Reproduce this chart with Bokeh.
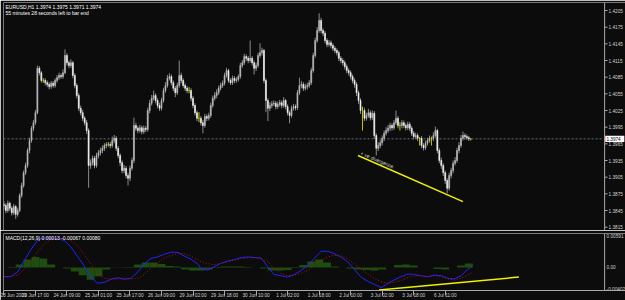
from bokeh.plotting import figure
from bokeh.layouts import column
from bokeh.models import Range1d, LinearAxis, FixedTicker, Span, Label, ColumnDataSource
from bokeh.embed import file_html
from bokeh.resources import INLINE
from bokeh.core.properties import value

# ---------------- data (EURUSD H1, prices x 10^4) ----------------
OPEN_X1E4 = [
    13856, 13854, 13845, 13858, 13849, 13841, 13852, 13838, 13845, 13872,
    13890, 13913, 13926, 13953, 13971, 13993, 14003, 14021, 14101, 14093,
    14079, 14079, 14075, 14072, 14068, 14074, 14070, 14079, 14084, 14088,
    14086, 14093, 14124, 14111, 14106, 14111, 14088, 14070, 14052, 14029,
    14021, 14011, 14003, 13989, 13926, 13931, 13939, 13926, 13944, 13949,
    13953, 13957, 13962, 13964, 13964, 13962, 13971, 13975, 13957, 13944,
    13931, 13917, 13921, 13908, 13903, 13921, 13935, 13998, 13993, 13989,
    13994, 13987, 13993, 13991, 14025, 14038, 14047, 14052, 14043, 14034,
    14029, 14043, 14061, 14070, 14083, 14086, 14075, 14065, 14057, 14070,
    14088, 14079, 14070, 14065, 14061, 14061, 14047, 14034, 14021, 14011,
    14011, 14003, 13998, 14014, 14011, 14016, 14034, 14047, 14052, 14057,
    14065, 14070, 14074, 14088, 14097, 14079, 14075, 14083, 14079, 14081,
    14086, 14106, 14111, 14122, 14119, 14115, 14119, 14111, 14101, 14106,
    14124, 14129, 14133, 14079, 14043, 14029, 14034, 14037, 14038, 14032,
    14036, 14039, 14034, 14043, 14032, 14021, 14016, 14029, 14032, 14030,
    14057, 14070, 14072, 14065, 14068, 14070, 14075, 14097, 14124, 14151,
    14169, 14187, 14169, 14164, 14151, 14144, 14147, 14142, 14137, 14133,
    14129, 14119, 14115, 14111, 14104, 14097, 14093, 14086, 14079, 14072,
    14057, 14043, 14025, 14025, 14011, 14016, 14021, 14012, 14020, 13980,
    13957, 13962, 13967, 13975, 13984, 13989, 13993, 13998, 13994, 14003,
    14011, 13998, 13998, 14003, 13998, 13994, 14000, 13993, 13984, 13978,
    13980, 13975, 13975, 13962, 13958, 13966, 13971, 13975, 13975, 13980,
    13989, 13953, 13935, 13926, 13913, 13899, 13885, 13908, 13917, 13930,
    13935, 13953, 13962, 13975, 13980, 13978, 13976, 13974]
HIGH_X1E4 = [
    13862, 13858, 13863, 13861, 13853, 13857, 13855, 13850, 13876, 13895,
    13917, 13931, 13957, 13976, 13997, 14008, 14026, 14106, 14105, 14096,
    14083, 14083, 14079, 14076, 14078, 14078, 14083, 14089, 14093, 14092,
    14099, 14135, 14128, 14115, 14117, 14114, 14092, 14074, 14056, 14034,
    14026, 14015, 14008, 13993, 13937, 13944, 13943, 13949, 13954, 13958,
    13962, 13966, 13968, 13968, 13968, 13978, 13981, 13979, 13961, 13948,
    13935, 13927, 13925, 13913, 13926, 13940, 14012, 14003, 13997, 13999,
    13998, 13998, 13997, 14030, 14044, 14053, 14061, 14056, 14047, 14039,
    14048, 14066, 14076, 14089, 14092, 14090, 14079, 14069, 14075, 14115,
    14093, 14083, 14074, 14069, 14067, 14065, 14051, 14038, 14025, 14022,
    14015, 14008, 14019, 14018, 14021, 14039, 14052, 14058, 14063, 14070,
    14075, 14079, 14093, 14102, 14100, 14083, 14088, 14087, 14085, 14090,
    14111, 14116, 14127, 14126, 14123, 14151, 14123, 14115, 14111, 14129,
    14146, 14138, 14136, 14083, 14047, 14040, 14042, 14043, 14042, 14041,
    14044, 14043, 14049, 14046, 14036, 14025, 14034, 14037, 14036, 14062,
    14084, 14078, 14076, 14073, 14075, 14080, 14102, 14129, 14156, 14175,
    14200, 14192, 14173, 14168, 14155, 14152, 14151, 14146, 14141, 14137,
    14133, 14123, 14119, 14115, 14108, 14101, 14097, 14090, 14083, 14076,
    14061, 14047, 14032, 14030, 14021, 14028, 14025, 14025, 14024, 13984,
    13968, 13972, 13980, 13989, 13995, 13999, 14003, 14002, 14008, 14025,
    14015, 14004, 14008, 14007, 14002, 14005, 14004, 13997, 13988, 13985,
    13984, 13977, 13979, 13966, 13971, 13976, 13980, 13978, 13986, 13996,
    13992, 13957, 13940, 13930, 13917, 13903, 13913, 13922, 13935, 13941,
    13958, 13968, 13981, 13987, 13984, 13982, 13979, 13975]
LOW_X1E4 = [
    13847, 13840, 13841, 13844, 13836, 13837, 13830, 13834, 13842, 13868,
    13886, 13909, 13922, 13948, 13967, 13988, 13999, 14018, 14088, 14075,
    14075, 14070, 14067, 14063, 14064, 14066, 14066, 14075, 14080, 14082,
    14082, 14090, 14106, 14101, 14102, 14083, 14065, 14047, 14024, 14016,
    14006, 13998, 13983, 13886, 13920, 13926, 13921, 13922, 13939, 13944,
    13948, 13952, 13957, 13960, 13957, 13958, 13966, 13952, 13939, 13925,
    13912, 13912, 13903, 13890, 13898, 13917, 13930, 13988, 13984, 13985,
    13982, 13983, 13986, 13987, 14020, 14034, 14043, 14038, 14029, 14024,
    14025, 14039, 14057, 14066, 14079, 14070, 14060, 14049, 14053, 14066,
    14074, 14066, 14060, 14056, 14056, 14042, 14029, 14016, 14006, 14004,
    13998, 13984, 13994, 14006, 14007, 14012, 14030, 14043, 14047, 14053,
    14061, 14066, 14070, 14084, 14075, 14071, 14071, 14074, 14075, 14077,
    14082, 14102, 14107, 14114, 14110, 14111, 14106, 14090, 14096, 14102,
    14120, 14124, 14074, 14022, 14006, 14024, 14029, 14033, 14027, 14028,
    14032, 14029, 14030, 14027, 14016, 14002, 14012, 14025, 14025, 14026,
    14053, 14065, 14060, 14061, 14063, 14066, 14071, 14093, 14120, 14147,
    14165, 14164, 14159, 14146, 14139, 14140, 14137, 14132, 14128, 14124,
    14114, 14110, 14106, 14099, 14092, 14088, 14081, 14074, 14066, 14051,
    14037, 14019, 13989, 14006, 14007, 14012, 14007, 14008, 13974, 13944,
    13952, 13957, 13962, 13970, 13980, 13985, 13988, 13989, 13990, 13999,
    13993, 13989, 13993, 13993, 13989, 13990, 13988, 13979, 13973, 13974,
    13970, 13962, 13957, 13953, 13954, 13962, 13967, 13962, 13970, 13976,
    13948, 13930, 13920, 13907, 13893, 13876, 13881, 13903, 13912, 13926,
    13931, 13948, 13958, 13971, 13973, 13972, 13970, 13971]
CLOSE_X1E4 = [
    13854, 13845, 13858, 13849, 13841, 13852, 13838, 13845, 13872, 13890,
    13913, 13926, 13953, 13971, 13993, 14003, 14021, 14101, 14093, 14079,
    14079, 14075, 14072, 14068, 14074, 14070, 14079, 14084, 14088, 14086,
    14093, 14124, 14111, 14106, 14111, 14088, 14070, 14052, 14029, 14021,
    14011, 14003, 13989, 13926, 13931, 13939, 13926, 13944, 13949, 13953,
    13957, 13962, 13964, 13964, 13962, 13971, 13975, 13957, 13944, 13931,
    13917, 13921, 13908, 13903, 13921, 13935, 13998, 13993, 13989, 13994,
    13987, 13993, 13991, 14025, 14038, 14047, 14052, 14043, 14034, 14029,
    14043, 14061, 14070, 14083, 14086, 14075, 14065, 14057, 14070, 14088,
    14079, 14070, 14065, 14061, 14061, 14047, 14034, 14021, 14011, 14011,
    14003, 13998, 14014, 14011, 14016, 14034, 14047, 14052, 14057, 14065,
    14070, 14074, 14088, 14097, 14079, 14075, 14083, 14079, 14081, 14086,
    14106, 14111, 14122, 14119, 14115, 14119, 14111, 14101, 14106, 14124,
    14129, 14133, 14079, 14043, 14029, 14034, 14037, 14038, 14032, 14036,
    14039, 14034, 14043, 14032, 14021, 14016, 14029, 14032, 14030, 14057,
    14070, 14072, 14065, 14068, 14070, 14075, 14097, 14124, 14151, 14169,
    14187, 14169, 14164, 14151, 14144, 14147, 14142, 14137, 14133, 14129,
    14119, 14115, 14111, 14104, 14097, 14093, 14086, 14079, 14072, 14057,
    14043, 14025, 14025, 14011, 14016, 14021, 14012, 14020, 13980, 13957,
    13962, 13967, 13975, 13984, 13989, 13993, 13998, 13994, 14003, 14011,
    13998, 13998, 14003, 13998, 13994, 14000, 13993, 13984, 13978, 13980,
    13975, 13975, 13962, 13958, 13966, 13971, 13975, 13975, 13980, 13989,
    13953, 13935, 13926, 13913, 13899, 13885, 13908, 13917, 13930, 13935,
    13953, 13962, 13975, 13980, 13978, 13976, 13974, 13974]

PRICE_TICKS = [1.3815, 1.3845, 1.3875, 1.3905, 1.3935, 1.3965, 1.3995,
               1.4025, 1.4055, 1.4085, 1.4115, 1.4145, 1.4175, 1.4205]

TIME_TICKS = [0, 16, 32, 48, 64, 80, 96, 112, 128, 144, 160, 176, 192, 208, 224]
TIME_LABELS = ["23 Jun 2009", "23 Jun 17:00", "24 Jun 09:00", "25 Jun 01:00",
               "25 Jun 17:00", "26 Jun 09:00", "29 Jun 02:00", "29 Jun 18:00",
               "30 Jun 10:00", "1 Jul 02:00", "1 Jul 18:00", "2 Jul 10:00",
               "3 Jul 02:00", "3 Jul 18:00", "6 Jul 11:00"]

MACD_BARS = [0, 3.5, 7, 10, 13.5, 17, 20.5, 24, 27.5, 30.5,
             34, 37.5, 40.5, 44, 47.5, 51, 54.5, 58, 61, 64.5,
             68, 71, 74.5, 78, 81, 85, 88.5, 91.5, 95, 98.5,
             100, 103.5, 106.5, 110, 113.5, 117, 120.5, 124, 127, 130.5,
             134, 137, 140.5, 144, 147, 151, 154.5, 157.5, 161, 164.5,
             167.5, 171, 174.5, 177.5, 181, 185, 188, 191.5, 195, 198,
             201.5, 205, 208, 211.5, 215, 218.5, 222, 225.5, 228.5, 232,
             235.5, 237.5]
MACD_MAIN = [-0.00162, -0.00162, -0.00076, 0.00097, 0.00299, 0.00471, 0.00518, 0.00511, 0.00501, 0.00471,
             0.00356, 0.00183, 0.0004, -0.00162, -0.00276, -0.00259, -0.00202, -0.0018, -0.00207, -0.0019,
             -0.00076, 0.00052, 0.00155, 0.00183, 0.00225, 0.00269, 0.00259, 0.002, 0.00143, 0.00057,
             -0.00017, -0.00047, 0.0001, 0.00069, 0.00109, 0.00138, 0.00173, 0.00183, 0.00173, 0.00166,
             0.0001, -0.00121, -0.00145, -0.00168, -0.00133, -0.00047, 0.0004, 0.00155, 0.00282, 0.00282,
             0.00242, 0.00183, 0.00097, -0.00017, -0.00162, -0.00249, -0.00294, -0.00352, -0.00276, -0.00219,
             -0.00162, -0.00116, -0.00121, -0.00145, -0.00162, -0.00133, -0.00145, -0.0019, -0.00202, -0.00145,
             -0.00029, 0.0001]
MACD_SIGNAL = [-0.00162, -0.00159, -0.00133, -0.00047, 0.00074, 0.00269, 0.00414, 0.00489, 0.00511, 0.00501,
               0.00471, 0.00373, 0.00242, 0.00069, -0.00104, -0.0019, -0.00202, -0.00202, -0.0019, -0.00202,
               -0.0019, -0.00133, -0.00017, 0.00069, 0.00155, 0.00212, 0.00242, 0.00242, 0.00195, 0.00135,
               0.001, 0.00066, 0.00048, 0.00069, 0.001, 0.00126, 0.00152, 0.00166, 0.00169, 0.00155,
               0.00097, -0.00017, -0.00104, -0.00145, -0.00133, -0.00104, -0.00047, 0.0004, 0.00126, 0.00183,
               0.00212, 0.002, 0.00155, 0.00069, -0.00017, -0.00121, -0.0019, -0.00249, -0.00276, -0.00259,
               -0.00228, -0.00176, -0.0015, -0.00145, -0.00162, -0.00145, -0.00162, -0.00202, -0.00219, -0.0019,
               -0.00133, -0.00093]
HIST_BARS = [0, 4, 8, 12, 16, 20, 24, 28, 32, 36, 40, 44, 48, 52, 56, 60, 64, 68, 72, 76,
             80, 84, 88, 92, 96, 100, 104, 108, 112, 116, 120, 124, 128, 132, 136, 140, 144, 148, 152, 156,
             160, 164, 168, 172, 176, 180, 184, 188, 192, 196, 200, 204, 208, 212, 216, 220, 224, 228, 232, 236]
HIST = [0.0, 0.00009, 0.00052, 0.00138, 0.00181, 0.00155, 0.00052, 0.0, -0.00017, -0.00069,
        -0.00138, -0.00216, -0.00155, -0.00035, 0.00005, -0.00005, 0.00009, 0.00052, 0.00086, 0.00086,
        0.0006, 0.00026, 0.00017, -0.00035, -0.00052, -0.00052, -0.00035, -0.00009, 0.00017, 0.00017,
        0.00017, 0.00009, 0.0, -0.00017, -0.00052, -0.00052, -0.00043, 0.00009, 0.00043, 0.00104,
        0.00138, 0.00086, 0.00017, 0.0, -0.00017, -0.00035, -0.00043, -0.00052, -0.00035, 0.0,
        0.00043, 0.00052, 0.00035, 0.0, 0.0, -0.00026, -0.00035, 0.0, 0.00035, 0.00069]
MACD_LEVELS = [0.00591, 0.0, -0.00402]
MACD_LEVEL_LABELS = ["0.00591", "0.00", "-0.00402"]

# hand-drawn trend lines (divergence)
DIV_PRICE_BARS = [179.7, 233.0]
DIV_PRICE = [1.3944, 1.3861]
DIV_MACD_BARS = [190.4, 261.4]
DIV_MACD = [-0.00392, -0.00168]

# ---------------- styling / geometry ----------------
BG = "#0c0c0c"
FRAME = "#a9a9a9"
TXT = "#d0d0d0"
FONT = "Liberation Sans"
FS = "5px"
AFS = "4.7px"
X_LO, X_AX, X_END = -0.2, 304.9, 315.5      # bar units: left edge, price-scale line, right edge
P_LO, P_HI = 1.3809, 1.42194
M_LO, M_HI = -0.00402, 0.00591

opens = [v / 10000 for v in OPEN_X1E4]
highs = [v / 10000 for v in HIGH_X1E4]
lows = [v / 10000 for v in LOW_X1E4]
closes = [v / 10000 for v in CLOSE_X1E4]
bars = list(range(len(closes)))

wick_col, body_col = [], []
for o, c in zip(opens, closes):
    if c > o:      # bull candle
        wick_col.append("#8c8c8c"); body_col.append("#b8b8b8")
    elif c < o:    # bear candle
        wick_col.append("#8c8c8c"); body_col.append("#f2f2f2")
    else:          # doji: drawn in line-chart colour
        wick_col.append("#c8c800"); body_col.append("#d8d800")

src = ColumnDataSource(dict(x=bars, o=opens, h=highs, l=lows, c=closes,
                            top=[max(o, c) for o, c in zip(opens, closes)],
                            bot=[min(o, c) for o, c in zip(opens, closes)],
                            wick=wick_col, body=body_col))

x_range = Range1d(X_LO, X_END)

common = dict(x_range=x_range, output_backend="svg", toolbar_location=None, title=None,
              min_border_left=3, min_border_right=0, frame_width=622,
              background_fill_color=BG, border_fill_color=BG, outline_line_color=None,
              x_axis_location=None, y_axis_location=None)


def frame_lines(p):
    p.add_layout(Span(location=X_LO, dimension="height", line_color=FRAME, line_width=1))
    p.add_layout(Span(location=X_AX, dimension="height", line_color=FRAME, line_width=1))
    p.add_layout(Span(location=p.y_range.end, dimension="width", line_color=FRAME, line_width=1))


# ---------------- main price panel ----------------
p1 = figure(frame_height=228, y_range=Range1d(P_LO, P_HI),
            min_border_top=2, min_border_bottom=0, **common)
p1.grid.visible = False
frame_lines(p1)
p1.add_layout(Span(location=P_LO, dimension="width", line_color=FRAME, line_width=1))

# bid line across the chart area
p1.segment(x0=[X_LO], x1=[X_AX], y0=[closes[-1]], y1=[closes[-1]],
           line_color="#5f7580", line_dash="2 2", line_width=1)

# price scale (drawn on the chart's own scale, right of the scale line)
p1.segment(x0=[X_AX] * len(PRICE_TICKS), x1=[X_AX + 1.5] * len(PRICE_TICKS),
           y0=PRICE_TICKS, y1=PRICE_TICKS, line_color=FRAME, line_width=1)
p1.text(x=[X_AX + 2.0] * len(PRICE_TICKS), y=PRICE_TICKS,
        text=["%.4f" % t for t in PRICE_TICKS], text_font=value(FONT), text_font_size=AFS,
        text_color=TXT, text_align="left", text_baseline="middle")

p1.segment(x0="x", y0="l", x1="x", y1="h", source=src, line_color="wick", line_width=1)
p1.vbar(x="x", width=0.5, top="top", bottom="bot", source=src,
        fill_color="body", line_color="body", line_width=0.6)

# current bid tag on the price scale
p1.quad(left=[X_AX + 0.3], right=[X_AX + 10.0], bottom=[closes[-1] - 0.00055], top=[closes[-1] + 0.00055],
        fill_color="#ffffff", line_color=None)
p1.text(x=[X_AX + 0.9], y=[closes[-1]], text=["%.4f" % closes[-1]], text_font=value(FONT),
        text_font_size=AFS, text_color="#000000", text_align="left", text_baseline="middle")

p1.line(DIV_PRICE_BARS, DIV_PRICE, line_color="#f0f000", line_width=1.5)
p1.text(x=[181.2], y=[1.3949], text=["+ ve divergence"], angle=-0.41,
        text_font=value(FONT), text_font_size=FS, text_color="#cfcfcf",
        text_align="left", text_baseline="middle")

p1.add_layout(Label(x=2, y=227, x_units="screen", y_units="screen",
                    text="EURUSD,H1  1.3974 1.3975 1.3971 1.3974",
                    text_font=FONT, text_font_size=FS, text_color="#ffffff", text_baseline="top"))
p1.add_layout(Label(x=2, y=221, x_units="screen", y_units="screen",
                    text="55 minutes 28 seconds left to bar end",
                    text_font=FONT, text_font_size=FS, text_color="#ffffff", text_baseline="top"))

# ---------------- MACD panel ----------------
p2 = figure(frame_height=57, y_range=Range1d(M_LO, M_HI),
            min_border_top=3, min_border_bottom=10, **common)
p2.grid.visible = False
frame_lines(p2)

axx = LinearAxis(ticker=FixedTicker(ticks=TIME_TICKS),
                 major_label_overrides=dict(zip(TIME_TICKS, TIME_LABELS)),
                 axis_line_color=FRAME, major_tick_line_color=FRAME, major_tick_out=5, major_tick_in=0,
                 minor_tick_line_color=None, major_label_text_color=TXT,
                 major_label_text_font=FONT, major_label_text_font_size=AFS,
                 major_label_text_align="left", major_label_standoff=-3)
p2.add_layout(axx, "below")

p2.vbar(x=HIST_BARS, width=4, top=HIST, bottom=0, fill_color="#225a10", fill_alpha=0.85, line_alpha=0)
p2.line(MACD_BARS, MACD_MAIN, line_color="#2424ff", line_width=1)
p2.line(MACD_BARS, MACD_SIGNAL, line_color="#c01010", line_width=1, line_dash="1 2")
p2.line(DIV_MACD_BARS, DIV_MACD, line_color="#f0f000", line_width=1.5)

# indicator window scale: max / zero / min, printed inside the window edges
p2.text(x=[X_AX + 1.0] * 3, y=MACD_LEVELS, text=MACD_LEVEL_LABELS,
        text_font=value(FONT), text_font_size=AFS, text_color=TXT, text_align="left",
        text_baseline=["top", "middle", "bottom"])

p2.add_layout(Label(x=2, y=55.5, x_units="screen", y_units="screen",
                    text="MACD(12,26,9) 0.00013 -0.00067 0.00080",
                    text_font=FONT, text_font_size=FS, text_color="#ffffff", text_baseline="top"))

layout = column(p1, p2, spacing=0)
open("out.html", "w").write(file_html(layout, INLINE))
